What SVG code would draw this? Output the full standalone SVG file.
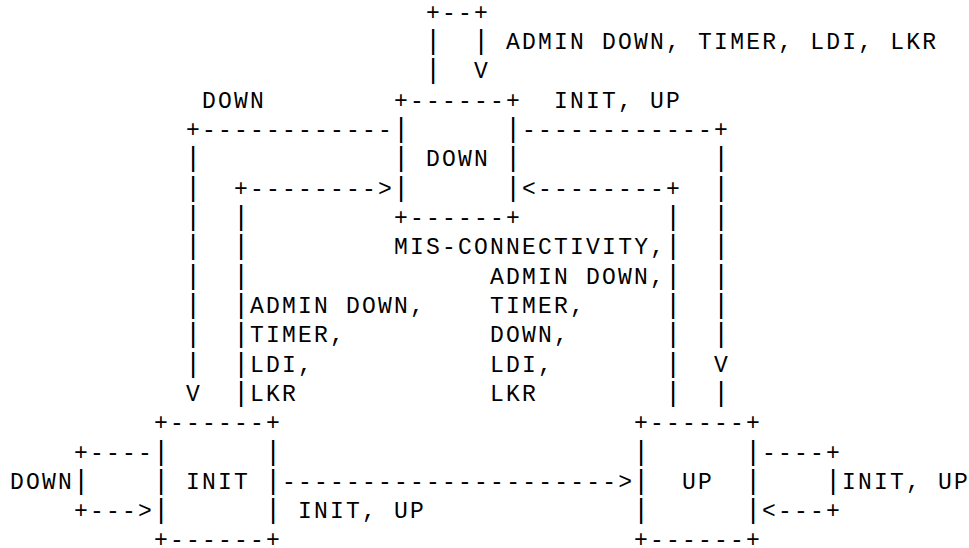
<svg xmlns="http://www.w3.org/2000/svg" width="969" height="548" viewBox="0 0 969 548">
<style>
text{font-family:"Liberation Mono","DejaVu Sans Mono",monospace;font-size:23px;letter-spacing:2.2px;fill:#000}
text.p{font-size:27px;letter-spacing:0}
</style>
<rect width="969" height="548" fill="#fff"/>
<g id="connectors">
<text x="426.1" y="19.8">+--+</text>
<text class="p" x="424.9" y="49.12">|</text><text class="p" x="472.9" y="49.12">|</text>
<text class="p" x="424.9" y="78.44">|</text><text x="474.1" y="78.44">V</text>
<text x="186.1" y="137.08">+------------</text><text x="522.1" y="137.08">------------+</text>
<text class="p" x="184.9" y="166.4">|</text><text class="p" x="712.9" y="166.4">|</text>
<text class="p" x="184.9" y="195.72">|</text><text x="234.1" y="195.72">+--------&gt;</text><text x="522.1" y="195.72">&lt;--------+</text><text class="p" x="712.9" y="195.72">|</text>
<text class="p" x="184.9" y="225.04">|</text><text class="p" x="232.9" y="225.04">|</text><text class="p" x="664.9" y="225.04">|</text><text class="p" x="712.9" y="225.04">|</text>
<text class="p" x="184.9" y="254.36">|</text><text class="p" x="232.9" y="254.36">|</text><text class="p" x="664.9" y="254.36">|</text><text class="p" x="712.9" y="254.36">|</text>
<text class="p" x="184.9" y="283.68">|</text><text class="p" x="232.9" y="283.68">|</text><text class="p" x="664.9" y="283.68">|</text><text class="p" x="712.9" y="283.68">|</text>
<text class="p" x="184.9" y="313">|</text><text class="p" x="232.9" y="313">|</text><text class="p" x="664.9" y="313">|</text><text class="p" x="712.9" y="313">|</text>
<text class="p" x="184.9" y="342.32">|</text><text class="p" x="232.9" y="342.32">|</text><text class="p" x="664.9" y="342.32">|</text><text class="p" x="712.9" y="342.32">|</text>
<text class="p" x="184.9" y="371.64">|</text><text class="p" x="232.9" y="371.64">|</text><text class="p" x="664.9" y="371.64">|</text><text x="714.1" y="371.64">V</text>
<text x="186.1" y="400.96">V</text><text class="p" x="232.9" y="400.96">|</text><text class="p" x="664.9" y="400.96">|</text><text class="p" x="712.9" y="400.96">|</text>
<text x="74.1" y="459.6">+----</text><text x="762.1" y="459.6">----+</text>
<text class="p" x="72.9" y="488.92">|</text><text x="282.1" y="488.92">---------------------&gt;</text><text class="p" x="824.9" y="488.92">|</text>
<text x="74.1" y="518.24">+---&gt;</text><text x="762.1" y="518.24">&lt;---+</text>
</g>
<g id="node-down">
<text x="394.1" y="107.76">+------+</text>
<text class="p" x="392.9" y="137.08">|</text><text class="p" x="504.9" y="137.08">|</text>
<text class="p" x="392.9" y="166.4">|</text><text x="426.1" y="166.4">DOWN</text><text class="p" x="504.9" y="166.4">|</text>
<text class="p" x="392.9" y="195.72">|</text><text class="p" x="504.9" y="195.72">|</text>
<text x="394.1" y="225.04">+------+</text>
</g>
<g id="node-init">
<text x="154.1" y="430.28">+------+</text>
<text class="p" x="152.9" y="459.6">|</text><text class="p" x="264.9" y="459.6">|</text>
<text class="p" x="152.9" y="488.92">|</text><text x="186.1" y="488.92">INIT</text><text class="p" x="264.9" y="488.92">|</text>
<text class="p" x="152.9" y="518.24">|</text><text class="p" x="264.9" y="518.24">|</text>
<text x="154.1" y="546.5">+------+</text>
</g>
<g id="node-up">
<text x="634.1" y="430.28">+------+</text>
<text class="p" x="632.9" y="459.6">|</text><text class="p" x="744.9" y="459.6">|</text>
<text class="p" x="632.9" y="488.92">|</text><text x="682.1" y="488.92">UP</text><text class="p" x="744.9" y="488.92">|</text>
<text class="p" x="632.9" y="518.24">|</text><text class="p" x="744.9" y="518.24">|</text>
<text x="634.1" y="546.5">+------+</text>
</g>
<g id="labels">
<text x="506.1" y="49.12">ADMIN DOWN, TIMER, LDI, LKR</text>
<text x="202.1" y="107.76">DOWN</text>
<text x="554.1" y="107.76">INIT, UP</text>
<text x="394.1" y="254.36">MIS-CONNECTIVITY,</text>
<text x="490.1" y="283.68">ADMIN DOWN,</text>
<text x="250.1" y="313">ADMIN DOWN,</text><text x="490.1" y="313">TIMER,</text>
<text x="250.1" y="342.32">TIMER,</text><text x="490.1" y="342.32">DOWN,</text>
<text x="250.1" y="371.64">LDI,</text><text x="490.1" y="371.64">LDI,</text>
<text x="250.1" y="400.96">LKR</text><text x="490.1" y="400.96">LKR</text>
<text x="10.1" y="488.92">DOWN</text>
<text x="842.1" y="488.92">INIT, UP</text>
<text x="298.1" y="518.24">INIT, UP</text>
</g>
</svg>
